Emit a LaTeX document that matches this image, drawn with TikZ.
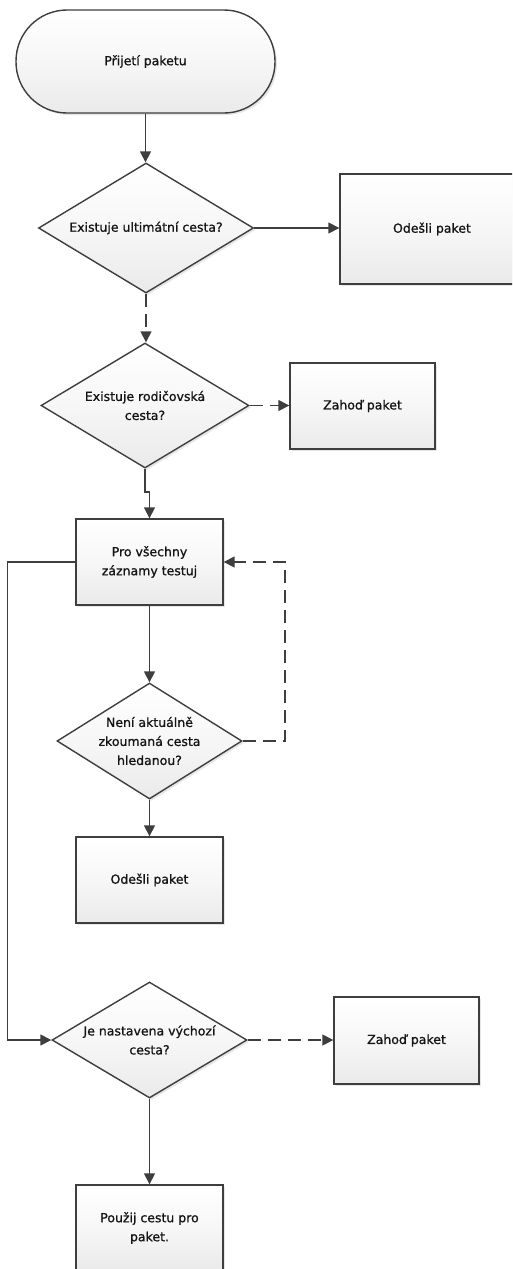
\documentclass[tikz,border=0pt]{standalone}
\usepackage{fontspec}
\setmainfont{DejaVu Sans}[FakeBold=0.9]
\usetikzlibrary{shapes.geometric,arrows.meta,shadows}

\definecolor{edgec}{HTML}{3E3E3E}
\definecolor{fillbot}{HTML}{EAEAEA}
\definecolor{txtc}{HTML}{141414}

\tikzset{
  x=1pt, y=-1pt,
  lbl/.style={font=\fontsize{12.5}{19}\selectfont, text=txtc, align=center},
  base/.style={draw=edgec, line width=1.4pt, top color=white, bottom color=fillbot,
    middle color=white!60!fillbot,
    drop shadow={shadow xshift=2pt, shadow yshift=-2pt, fill=black!12, opacity=0.8},
    lbl, inner sep=0pt},
  procbox/.style={base, rectangle},
  termbox/.style={base, rectangle, rounded corners=51pt},
  decision/.style={base, diamond, aspect=1},
  conn/.style={draw=edgec, line width=1.6pt, -{Triangle[length=11pt,width=11pt]}},
  dconn/.style={conn, dash pattern=on 13pt off 7pt},
}

\begin{document}
\begin{tikzpicture}
\useasboundingbox (0,0) rectangle (512,1269);
\clip (0,0) rectangle (512,1269);

% start of the flow
\node[termbox, minimum width=259pt, minimum height=103pt] (start) at (145.5,61.5) {Přijetí paketu};

% first decision: direct route
\node[decision, minimum width=215pt, minimum height=130pt,
      label={[lbl]center:Existuje ultimátní cesta?}] (ult) at (146,228) {};
\node[procbox, minimum width=184pt, minimum height=110pt] (send1) at (432,229) {Odešli paket};

% second decision: parent route
\node[decision, minimum width=208pt, minimum height=125pt,
      label={[lbl]center:Existuje rodičovská\\cesta?}] (par) at (145,405.5) {};
\node[procbox, minimum width=145pt, minimum height=86pt] (drop1) at (362.5,406) {Zahoď paket};

% loop over the records
\node[procbox, minimum width=147pt, minimum height=86pt] (loop) at (149.5,562) {Pro všechny\\záznamy testuj};
\node[decision, minimum width=185pt, minimum height=116pt,
      label={[lbl]center:Není aktuálně\\zkoumaná cesta\\hledanou?}] (cur) at (149.5,741) {};
\node[procbox, minimum width=147pt, minimum height=86pt] (send2) at (149.5,880) {Odešli paket};

% default route
\node[decision, minimum width=195pt, minimum height=116pt,
      label={[lbl]center:Je nastavena výchozí\\cesta?}] (def) at (149.5,1040) {};
\node[procbox, minimum width=145pt, minimum height=87pt] (drop2) at (406.5,1040.5) {Zahoď paket};
\node[procbox, minimum width=147pt, minimum height=86pt] (use) at (149.5,1228) {Použij cestu pro\\paket.};

% connectors
\draw[conn] (start.south) -- (start.south |- ult.north);
\draw[conn] (ult.east) -- (ult.east -| send1.west);
\draw[dconn] (ult.south) -- (ult.south |- par.north);
\draw[dconn] (par.east) -- (par.east -| drop1.west);
\draw[conn] (par.south) -- ++(0,23) -| (loop.north);
\draw[conn] (loop.south) -- (cur.north);
\draw[dconn] (cur.east) -- ++(42,0) |- (loop.east);
\draw[conn] (cur.south) -- (send2.north);
\draw[conn] (loop.west) -- ++(-68,0) |- (def.west);
\draw[dconn] (def.east) -- (def.east -| drop2.west);
\draw[conn] (def.south) -- (use.north);
\end{tikzpicture}
\end{document}
